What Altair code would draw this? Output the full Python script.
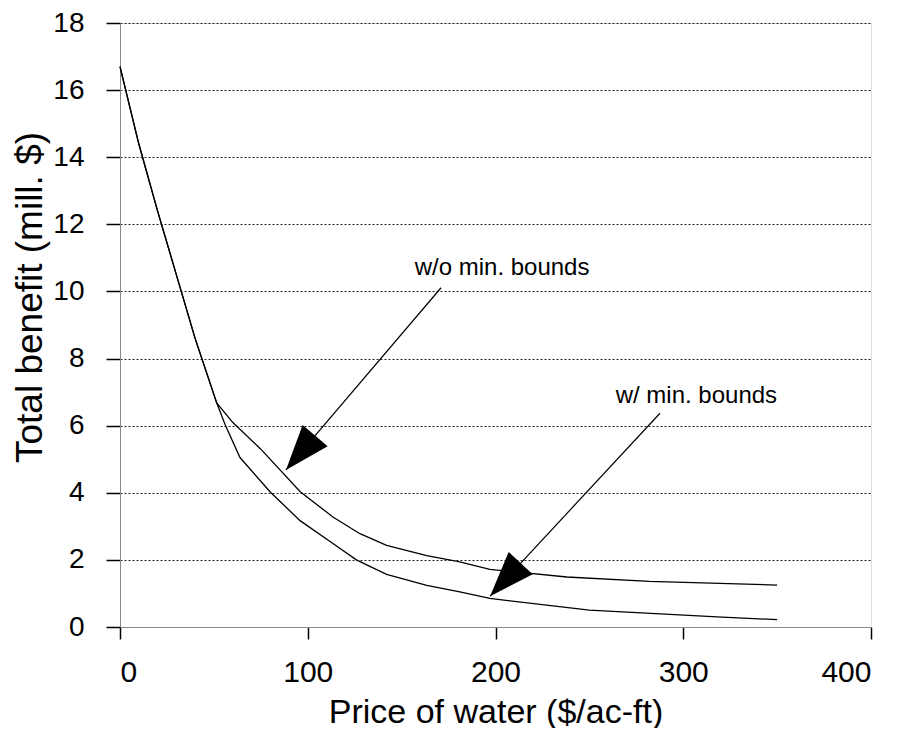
import math
import altair as alt
import pandas as pd

# ---- data ----
shared_x = [0, 10, 20, 30, 40, 51.5]
shared_y = [16.7, 14.4, 12.4, 10.5, 8.6, 6.68]

with_x = [55.9, 63.9, 79.9, 95.9, 113.6, 125.9, 142, 163.4, 181, 197, 250, 318, 350]
with_y = [6.04, 5.05, 4.03, 3.17, 2.48, 2.0, 1.57, 1.24, 1.05, 0.85, 0.5, 0.3, 0.22]

without_x = [60, 75, 96, 113.6, 127.8, 142, 163.4, 181, 197, 238, 282, 350]
without_y = [6.1, 5.3, 4.03, 3.27, 2.78, 2.43, 2.13, 1.94, 1.72, 1.49, 1.36, 1.25]

label_text = ["w/o min. bounds", "w/ min. bounds"]
label_x = [203.5, 307]
label_y = [10.5, 6.67]

arrow_x1 = [171, 287.6]
arrow_y1 = [10.11, 6.37]
arrow_x2 = [88.4, 197.1]
arrow_y2 = [4.68, 0.92]

x_ticks = [0, 100, 200, 300, 400]
y_ticks = [0, 2, 4, 6, 8, 10, 12, 14, 16, 18]

W, H = 751, 604
FONT = "Liberation Sans"

# ---- tables ----
rows = []
for s, xs_, ys_ in [("w/ min. bounds", shared_x + with_x, shared_y + with_y),
                    ("w/o min. bounds", shared_x + without_x, shared_y + without_y)]:
    for i, (a, b) in enumerate(zip(xs_, ys_)):
        rows.append({"series": s, "x": a, "y": b, "o": i})
lines_df = pd.DataFrame(rows)

ppx, ppy = W / 400, H / 18
angles = []
for a1, b1, a2, b2 in zip(arrow_x1, arrow_y1, arrow_x2, arrow_y2):
    dx = (a2 - a1) * ppx
    dy = -(b2 - b1) * ppy
    angles.append(math.degrees(math.atan2(dx, -dy)) % 360)

arrows_df = pd.DataFrame({"x": arrow_x1, "y": arrow_y1, "x2": arrow_x2,
                          "y2": arrow_y2})
heads_df = pd.DataFrame({"x": arrow_x2, "y": arrow_y2, "angle": angles})
labels_df = pd.DataFrame({"x": label_x, "y": label_y, "text": label_text})

xs = alt.Scale(domain=[0, 400], nice=False)
ys = alt.Scale(domain=[0, 18], nice=False)

x_axis = alt.Axis(values=x_ticks, title="Price of water ($/ac-ft)", grid=False,
                  ticks=True, tickSize=12, tickColor="black", tickWidth=1.5,
                  labelPadding=18, titlePadding=8,
                  labelFontSize=30, titleFontSize=34, titleFontWeight="normal",
                  labelFont=FONT, titleFont=FONT)
y_axis = alt.Axis(values=y_ticks, title="Total benefit  (mill. $)", grid=True,
                  gridDash=[2, 2], gridColor="#222222", gridWidth=1,
                  ticks=True, tickSize=14, tickColor="black", tickWidth=1.5,
                  labelPadding=22, titlePadding=3,
                  labelFontSize=28, titleFontSize=37, titleFontWeight="normal",
                  labelFont=FONT, titleFont=FONT, titleY=274)

lines = alt.Chart(lines_df).mark_line(color="black", strokeWidth=1.3).encode(
    x=alt.X("x:Q", scale=xs, axis=x_axis),
    y=alt.Y("y:Q", scale=ys, axis=y_axis),
    detail="series:N",
    order="o:Q",
)

shafts = alt.Chart(arrows_df).mark_rule(color="black", strokeWidth=1.2).encode(
    x=alt.X("x:Q", scale=xs), y=alt.Y("y:Q", scale=ys),
    x2="x2:Q", y2="y2:Q",
)

heads = alt.Chart(heads_df).mark_point(
    shape="M0,0L-0.73,2L0.73,2Z", filled=True, color="black", opacity=1,
    size=2025, strokeWidth=0,
).encode(
    x=alt.X("x:Q", scale=xs), y=alt.Y("y:Q", scale=ys),
    angle=alt.Angle("angle:Q", scale=None),
)

labels = alt.Chart(labels_df).mark_text(
    font=FONT, fontSize=24, color="black", align="center", baseline="alphabetic"
).encode(
    x=alt.X("x:Q", scale=xs), y=alt.Y("y:Q", scale=ys), text="text:N",
)

chart = alt.layer(lines, shafts, heads, labels).properties(
    width=W, height=H,
    autosize=alt.AutoSizeParams(type="none"),
    padding={"left": 112, "top": 15, "right": 21, "bottom": 101},
).configure_view(
    stroke="black", strokeWidth=1.5
).configure_axis(
    domainColor="black", domainWidth=1.5,
    labelColor="black", titleColor="black",
).configure(background="white")

chart.save("out.html", embed_options={"renderer": "svg", "actions": False})
